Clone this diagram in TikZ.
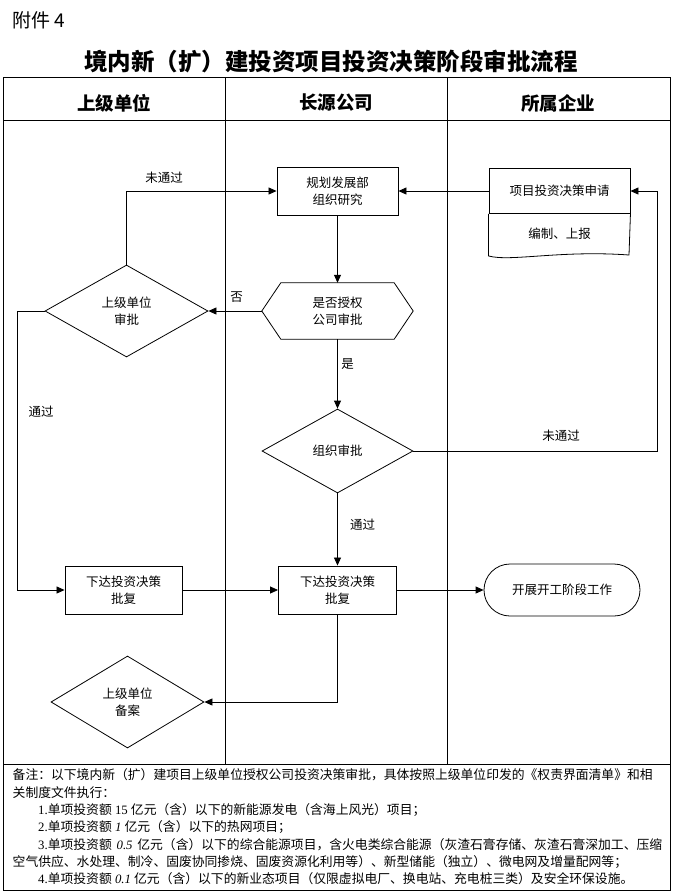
\documentclass[tikz,border=0pt]{standalone}
\usepackage{fontspec}
\setmainfont{Noto Sans CJK SC}
\newfontfamily\lat{Liberation Serif}
\usetikzlibrary{arrows.meta,shapes.geometric,calc}
\XeTeXlinebreaklocale "zh"
\XeTeXlinebreakskip=0pt plus 3pt
\begin{document}
\begin{tikzpicture}[x=1pt,y=-1pt,
  every node/.style={font=\fontsize{12.5}{17}\selectfont, text=black},
  lane/.style={line width=0.8pt},
  procbox/.style={draw, line width=0.9pt, minimum width=#1, minimum height=47pt, inner sep=1pt, align=center},
  dia/.style={draw, diamond, line width=0.8pt, inner sep=0pt, align=center},
  conn/.style={line width=0.8pt, -{Triangle[length=8pt,width=7pt]}},
  plain/.style={line width=0.8pt},
  lbl/.style={inner sep=0pt},
  hdr/.style={font=\fontsize{18.5}{20}\bfseries\selectfont},
  note/.style={font=\fontsize{12.8}{17}\selectfont, anchor=west, inner sep=0pt}
]
\useasboundingbox (0,0) rectangle (674,895);
\fill[white] (0,0) rectangle (674,895);

% heading texts
\node[anchor=west, inner sep=0pt, font=\fontsize{19}{20}\selectfont] (fj) at (12,20) {附件 4};
\node[inner sep=0pt, font=\fontsize{23.5}{26}\bfseries\selectfont] (title) at (331,61) {境内新（扩）建投资项目投资决策阶段审批流程};

% table
\draw[lane] (3,77) rectangle (670,890);
\draw[lane] (3,120) -- (670,120);
\draw[lane] (3,764) -- (670,764);
\draw[lane] (225,77) -- (225,764);
\draw[lane] (447,77) -- (447,764);
\node[hdr] (h1) at (114,103) {上级单位};
\node[hdr] (h2) at (336,103) {长源公司};
\node[hdr] (h3) at (558,103) {所属企业};

% nodes
\node[procbox=121pt, minimum height=48pt] (gh) at (337.5,191) {规划发展部\\组织研究};
\node[procbox=141pt, minimum height=45pt] (xm) at (559.5,191) {项目投资决策申请};
\draw[line width=0.8pt] (xm.south west) -- ++(0,42) .. controls (510,262) and (560,250) .. (629,255) -- (xm.south east);
\node[lbl] (bz) at (559.5,234) {编制、上报};

\node[minimum width=151pt, minimum height=56pt, inner sep=0pt, align=center] (hex) at (337.5,311) {是否授权\\公司审批};
\draw[line width=0.8pt] (hex.west) -- ($(hex.north west)+(19,0)$) -- ($(hex.north east)+(-19,0)$) -- (hex.east) -- ($(hex.south east)+(-19,0)$) -- ($(hex.south west)+(19,0)$) -- cycle;

\node[dia, minimum width=163pt, minimum height=92pt] (d1) at (126.5,311) {上级单位\\审批};
\node[dia, minimum width=151pt, minimum height=84pt] (d2) at (337.5,451) {组织审批};
\node[procbox=117pt, minimum height=48pt] (xl) at (123.5,590) {下达投资决策\\批复};
\node[procbox=118pt, minimum height=48pt] (xc) at (337.5,590) {下达投资决策\\批复};
\node[draw, line width=0.8pt, rounded corners=26pt, minimum width=156pt, minimum height=52pt] (st) at (562,590) {开展开工阶段工作};
\node[dia, minimum width=153pt, minimum height=92pt] (d3) at (127.5,702) {上级单位\\备案};

% connectors
\coordinate (lc) at (17,311);
\coordinate (rc) at (657,451);
\draw[conn] (xm.west) -- (gh.east);
\draw[conn] (gh.south) -- (hex.north);
\draw[conn] (hex.west) -- (d1.east);
\draw[conn] (d1.north) |- (gh.west);
\draw[conn] (d1.west) -- (lc) |- (xl.west);
\draw[conn] (hex.south) -- (d2.north);
\draw[conn] (d2.east) -- (rc) |- (xm.east);
\draw[conn] (d2.south) -- (xc.north);
\draw[conn] (xl.east) -- (xc.west);
\draw[conn] (xc.east) -- (st.west);
\draw[conn] (xc.south) |- (d3.east);

% labels
\node[lbl] (l1) at (164,178) {未通过};
\node[lbl] (l2) at (236.5,297) {否};
\node[lbl] (l3) at (41,412) {通过};
\node[lbl] (l4) at (347.5,364) {是};
\node[lbl] (l5) at (561,436) {未通过};
\node[lbl] (l6) at (362.5,525) {通过};

% notes
\node[note] (n1) at (12.5,775) {\hbox to 647pt{备注：以下境内新（扩）建项目上级单位授权公司投资决策审批，具体按照上级单位印发的《权责界面清单》和相}};
\node[note] (n2) at (12.5,793) {关制度文件执行：};
\node[note] (n3) at (38,810) {{\lat 1.}单项投资额{\lat\ 15 }亿元（含）以下的新能源发电（含海上风光）项目；};
\node[note] (n4) at (38,827) {{\lat 2.}单项投资额{\lat\ \itshape 1 }亿元（含）以下的热网项目；};
\node[note] (n5) at (38,845) {\hbox to 624pt{{\lat 3.}单项投资额{\lat\ \itshape 0.5 }亿元（含）以下的综合能源项目，含火电类综合能源（灰渣石膏存储、灰渣石膏深加工、压缩}};
\node[note] (n6) at (12.5,862) {空气供应、水处理、制冷、固废协同掺烧、固废资源化利用等）、新型储能（独立）、微电网及增量配网等；};
\node[note] (n7) at (38,879) {{\lat 4.}单项投资额{\lat\ \itshape 0.1 }亿元（含）以下的新业态项目（仅限虚拟电厂、换电站、充电桩三类）及安全环保设施。};
\end{tikzpicture}
\end{document}
